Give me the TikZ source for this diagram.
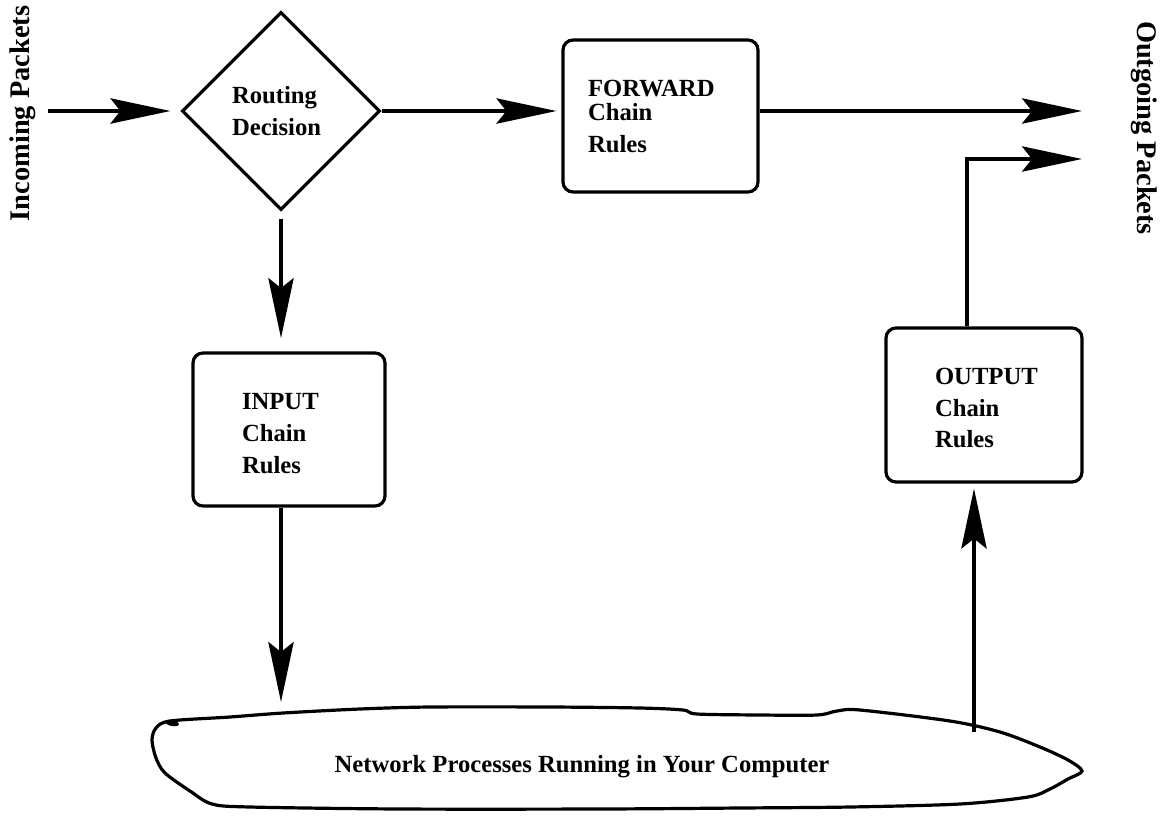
\documentclass[tikz,border=0pt]{standalone}
\usepackage{fontspec}
\setmainfont{Liberation Serif}
\usetikzlibrary{arrows.meta,shapes.geometric,positioning}
\newcommand*{\chainfont}{\fontsize{18.5}{24}\selectfont\bfseries}
\newcommand*{\sidefont}{\fontsize{21.3}{26}\selectfont\bfseries}

\tikzset{
	flow/.style={-{Stealth[length=45pt,width=19pt,inset=7.5pt]}},
	chainbox/.style={draw,rounded corners=7.5pt,align=left,inner xsep=0pt,font=\chainfont},
}

\begin{document}
\begin{tikzpicture}[x=0.75pt,y=-0.75pt,line width=2.4pt]
	\useasboundingbox (0,0) rectangle (1161,815);
	
	\node[rotate=90,font=\sidefont] (inlbl) at (23,113.5) {Incoming Packets};
	\node[rotate=-90,font=\sidefont] (outlbl) at (1144,128) {Outgoing Packets};
	
	\node[draw,diamond,minimum width=148.5pt,minimum height=148.5pt,inner sep=0pt,text width=73.5pt,align=left,font=\chainfont] (route) at (281,111) {Routing\\Decision};
	
	\node[chainbox,minimum width=146.25pt,minimum height=114pt,text width=108.75pt] (forward) at (660.5,116) {FORWARD\\[-6pt]Chain\\Rules};
	\node[chainbox,minimum width=144pt,minimum height=114.75pt,text width=70.5pt,text height=17.5pt] (input) at (289,429.5) {INPUT\\Chain\\Rules};
	\node[chainbox,minimum width=147pt,minimum height=115.5pt,text width=73.5pt,text height=17pt] (output) at (984,405) {OUTPUT\\[-0.5pt]Chain\\[-0.5pt]Rules};
	
	% the cloud
	\draw plot[smooth cycle,tension=0.5] coordinates {(170,721) (230,717) (283,713) (360,709) (430,707) (550,707) (640,708) (683,710) (697,714) (760,715) (817,715) (837,711) (860,710) (950,721) (1000,732) (1040,747) (1068,760) (1082,771) (1068,779) (1050,789) (1028,797) (960,804) (850,807) (740,808) (600,809) (400,809) (250,807) (212,804) (190,791) (165,773) (156,758) (152,740) (156,728)};
	\fill[rotate around={-12:(172,723)}] (172,723) ellipse (7 and 3);
	\node[font=\chainfont,anchor=base] (net) at (582,772) {Network Processes Running in Your Computer};
	
	\coordinate (pin) at (48,111);
	\coordinate (pout1) at (1082,111);
	\coordinate (pout2) at (1082,159);
	\coordinate (netin) at (281,702);
	\coordinate (netout) at (974,732);
	
	\draw[flow,shorten >=7.5pt] (pin) -- (route.west);
	\draw[flow,shorten >=3.75pt] (route.east) -- (forward.west |- route.east);
	\draw[flow] (forward.east |- pout1) -- (pout1);
	\draw[flow,shorten <=5.25pt,shorten >=10pt] (route.south) -- (route.south |- input.north);
	\draw[flow] (input.south -| netin) -- (netin);
	\draw[flow,shorten >=3.75pt] (netout) -- (netout |- output.south);
	\draw[flow] ([xshift=-12.75pt]output.north) |- (pout2);
\end{tikzpicture}
\end{document}
